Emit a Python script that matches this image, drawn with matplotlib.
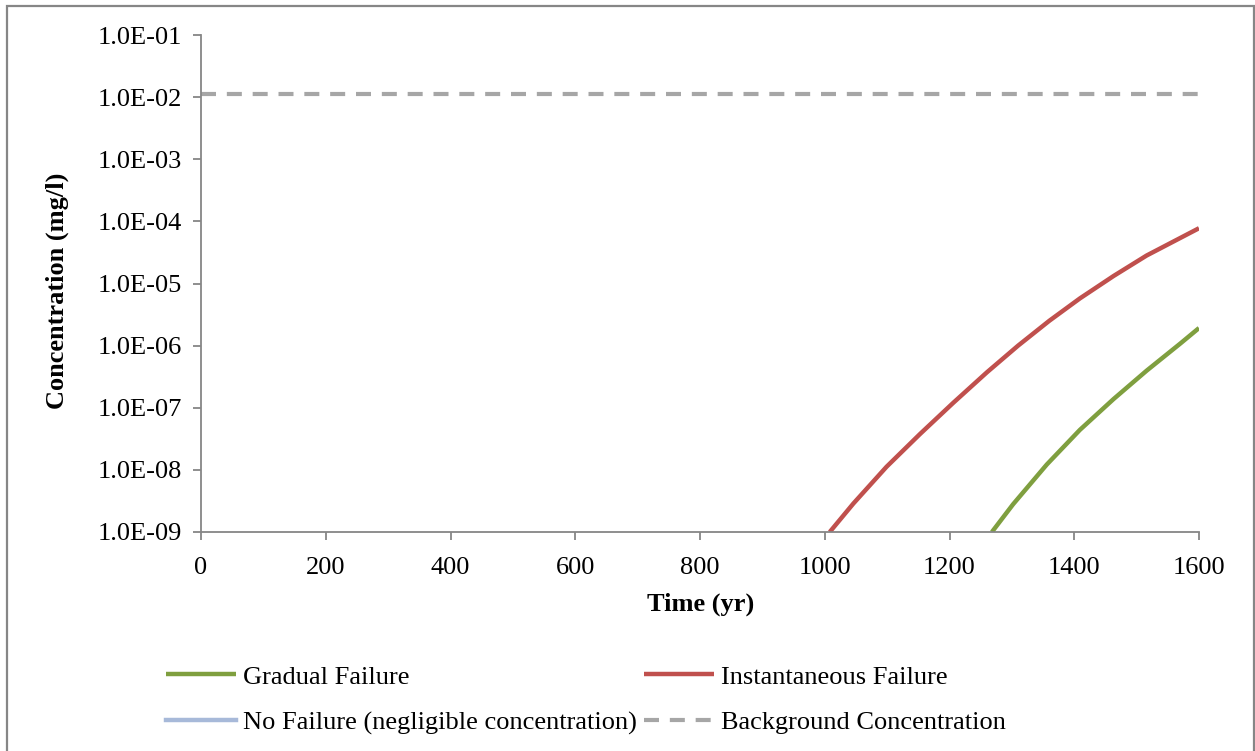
import matplotlib
matplotlib.use("Agg")
import matplotlib.pyplot as plt
from matplotlib.ticker import FuncFormatter, NullLocator, FixedLocator
from matplotlib.patches import Rectangle

# ---- data ----
inst_time = [1008, 1046, 1099, 1153, 1206, 1260, 1310, 1360, 1409, 1463, 1516, 1600]
inst_conc = [1.0e-9, 2.88e-9, 1.12e-8, 3.8e-8, 1.2e-7, 3.72e-7, 1.0e-6, 2.51e-6,
             5.75e-6, 1.32e-5, 2.82e-5, 7.76e-5]

grad_time = [1268, 1302, 1356, 1409, 1463, 1516, 1570, 1600]
grad_conc = [1.0e-9, 2.8e-9, 1.22e-8, 4.4e-8, 1.38e-7, 3.95e-7, 1.08e-6, 1.92e-6]

nofail_time = []
nofail_conc = []

bg_time = [0, 1600]
bg_conc = [0.0112, 0.0112]

x_ticks = [0, 200, 400, 600, 800, 1000, 1200, 1400, 1600]
y_ticks = [1e-9, 1e-8, 1e-7, 1e-6, 1e-5, 1e-4, 1e-3, 1e-2, 1e-1]

labels = ["Gradual Failure", "Instantaneous Failure",
          "No Failure (negligible concentration)", "Background Concentration"]

# ---- style ----
plt.rcParams['font.family'] = ['Liberation Serif', 'DejaVu Serif']
FS = 19
GREEN = "#7F9F3F"
RED = "#C0504D"
BLUE = "#A7B9D9"
GREY = "#A6A6A6"
AXC = "#868686"

fig = plt.figure(figsize=(12.55, 7.51), dpi=100)
ax = fig.add_axes([201/1255, 1-532/751, (1199-201)/1255, (532-35)/751])

lg, = ax.plot(grad_time, grad_conc, color=GREEN, lw=3.2, solid_capstyle='butt',
              solid_joinstyle='round')
li, = ax.plot(inst_time, inst_conc, color=RED, lw=3.2, solid_capstyle='butt',
              solid_joinstyle='round')
ln, = ax.plot(nofail_time, nofail_conc, color=BLUE, lw=3.2)
lb, = ax.plot(bg_time, bg_conc, color=GREY, lw=3, dashes=(3.6, 2.6))

ax.set_yscale('log')
ax.set_xlim(0, 1600)
ax.set_ylim(1e-9, 1e-1)
ax.xaxis.set_major_locator(FixedLocator(x_ticks))
ax.yaxis.set_major_locator(FixedLocator(y_ticks))
ax.yaxis.set_minor_locator(NullLocator())
ax.yaxis.set_major_formatter(FuncFormatter(lambda v, p: f"{v:.1E}"))
ax.xaxis.set_major_formatter(FuncFormatter(lambda v, p: f"{int(v)}"))

for s in ['top', 'right']:
    ax.spines[s].set_visible(False)
for s in ['left', 'bottom']:
    ax.spines[s].set_color(AXC)
    ax.spines[s].set_linewidth(1.3)
ax.tick_params(axis='both', colors=AXC, length=6, width=1.3, labelsize=FS,
               labelcolor='black', direction='out')
ax.tick_params(axis='y', pad=8)
ax.tick_params(axis='x', pad=12)

fig.text(701/1255, 1-604/751, "Time (yr)", fontsize=FS, fontweight='bold',
         ha='center', va='center')
fig.text(57/1255, 1-291/751, "Concentration (mg/l)", fontsize=FS, fontweight='bold',
         ha='center', va='center', rotation=90)

leg = fig.legend([lg, ln, li, lb], [labels[0], labels[2], labels[1], labels[3]],
                 ncol=2, loc='center', bbox_to_anchor=(586/1255, 1-700/751),
                 frameon=False, fontsize=FS, handlelength=2.65, handletextpad=0.25,
                 columnspacing=0.3, labelspacing=0.85)

# outer chart border
fig.patches.append(Rectangle((7/1255, -0.05), (1254-7)/1255, 1-6/751 + 0.05,
                             transform=fig.transFigure, fill=False,
                             edgecolor=AXC, lw=1.6))

fig.savefig("out.png", dpi=100)
